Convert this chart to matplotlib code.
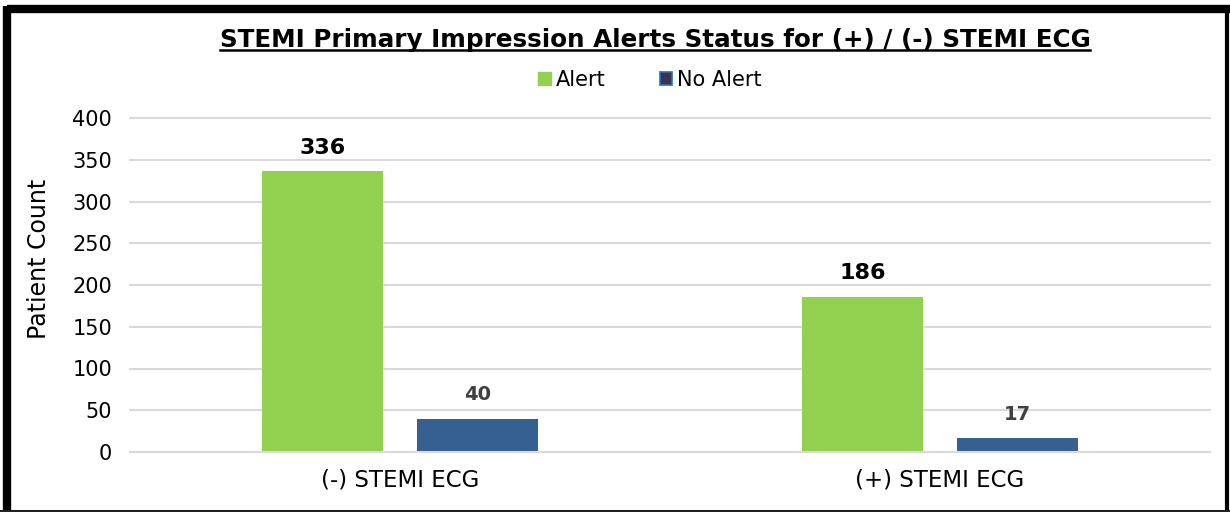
import numpy as np
import matplotlib
matplotlib.use("Agg")
import matplotlib.pyplot as plt
from matplotlib.lines import Line2D

# ── Data ───────────────────────────────────────────────────────────────────────
categories = ["(-) STEMI ECG", "(+) STEMI ECG"]
alert      = [336, 186]
no_alert   = [40, 17]
y_ticks    = [0, 50, 100, 150, 200, 250, 300, 350, 400]

TITLE  = "STEMI Primary Impression Alerts Status for (+) / (-) STEMI ECG"
GREEN  = "#92d050"
BLUE   = "#35608f"
GRID   = "#d9d9d9"

plt.rcParams["font.family"] = "DejaVu Sans"

fig = plt.figure(figsize=(12.3, 5.12), dpi=100)
ax = fig.add_axes([130 / 1230, 60 / 512, 1080 / 1230, 334 / 512])

x = np.arange(len(categories))
bw = 0.224
off = 0.143
b1 = ax.bar(x - off, alert, width=bw, color=GREEN, zorder=2, label="Alert")
b2 = ax.bar(x + off, no_alert, width=bw, color=BLUE, zorder=2, label="No Alert")

# data labels
for rect, v in zip(b1, alert):
    ax.annotate(str(v), (rect.get_x() + rect.get_width() / 2, v),
                xytext=(0, 17), textcoords="offset points", ha="center", va="center",
                fontsize=16, fontweight="bold", color="black")
for rect, v in zip(b2, no_alert):
    ax.annotate(str(v), (rect.get_x() + rect.get_width() / 2, v),
                xytext=(0, 17), textcoords="offset points", ha="center", va="center",
                fontsize=14, fontweight="bold", color="#404040")

ax.set_xlim(-0.5, 1.5)
ax.set_ylim(0, 400)
ax.set_yticks(y_ticks)
ax.set_xticks(x)
ax.set_xticklabels(categories)
ax.tick_params(axis="y", length=0, pad=13, labelsize=15)
ax.tick_params(axis="x", length=0, pad=12, labelsize=16.5)
ax.yaxis.grid(True, color=GRID, linewidth=1.5, zorder=0)
for gl in ax.get_ygridlines():
    gl.set_clip_on(False)
ax.set_axisbelow(True)
for s in ("top", "right", "left"):
    ax.spines[s].set_visible(False)
ax.spines["bottom"].set_color(GRID)
ax.spines["bottom"].set_linewidth(1.5)
ax.set_ylabel("Patient Count", fontsize=17)
ax.yaxis.set_label_coords(-0.073, 0.578)

# legend
leg = fig.legend(handles=[
    plt.Rectangle((0, 0), 1, 1, facecolor=GREEN, edgecolor=GREEN),
    plt.Rectangle((0, 0), 1, 1, facecolor="#3b3355", edgecolor="#2f6db5", linewidth=1.2),
], labels=["Alert", "No Alert"], loc="center", bbox_to_anchor=(650 / 1230, 1 - 80 / 512),
    ncol=2, frameon=False, fontsize=15, handlelength=0.6, handleheight=0.6,
    handletextpad=0.25, columnspacing=2.6)

# title with underline
title = fig.text(655 / 1230, 1 - 40 / 512, TITLE, ha="center", va="center",
                 fontsize=17.7, fontweight="bold")
fig.canvas.draw()
bb = title.get_window_extent().transformed(fig.transFigure.inverted())
fig.add_artist(Line2D([bb.x0, bb.x1], [bb.y0 + 0.004, bb.y0 + 0.004],
                      transform=fig.transFigure, color="black", linewidth=1.8))

# outer frame: thick top/left, thin right/bottom
fig.add_artist(Line2D([7 / 1230, 1], [1 - 9 / 512, 1 - 9 / 512],
                      transform=fig.transFigure, color="black", linewidth=6,
                      solid_capstyle="butt"))
fig.add_artist(Line2D([7 / 1230, 7 / 1230], [0, 1 - 6 / 512],
                      transform=fig.transFigure, color="black", linewidth=6,
                      solid_capstyle="butt"))
fig.add_artist(Line2D([1227 / 1230, 1227 / 1230], [0, 1 - 5 / 512],
                      transform=fig.transFigure, color="black", linewidth=3,
                      solid_capstyle="butt"))
fig.add_artist(Line2D([0, 1], [1 / 512, 1 / 512],
                      transform=fig.transFigure, color="#222222", linewidth=1.5))

fig.savefig("out.png", dpi=100)
